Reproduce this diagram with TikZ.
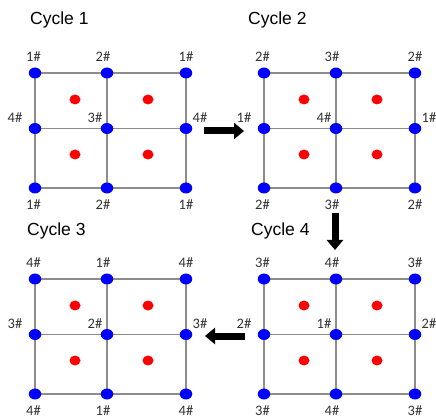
\documentclass[tikz,border=0pt]{standalone}
\usepackage{fontspec}
\setmainfont{Liberation Sans}
\newfontfamily\labfont{Carlito}
\usetikzlibrary{shapes.geometric,arrows.meta,backgrounds}
\definecolor{dotblue}{HTML}{0000FF}
\definecolor{dotred}{HTML}{FF0000}
\definecolor{gridgray}{HTML}{8C8C8C}
\definecolor{labgray}{HTML}{333333}
\tikzset{
  bdot/.style={ellipse,fill=dotblue,minimum width=12.5pt,minimum height=11pt,inner sep=0pt},
  rdot/.style={ellipse,fill=dotred,minimum width=11pt,minimum height=10pt,inner sep=0pt},
  gline/.style={draw=gridgray,line width=1.2pt},
  lab/.style={font=\labfont\fontsize{14.5}{16}\selectfont,text=labgray,inner sep=0pt},
  ttl/.style={font=\fontsize{17.5}{20}\selectfont,anchor=base west,inner sep=0pt},
  bigarrow/.style={line width=7pt,-{Triangle[width=16pt,length=10pt]}}
}
\newcommand\cyclegrid[7]{%
  \node[bdot] (#1-tl) at (#2,#3) {};
  \node[bdot] (#1-tm) at (#2+72,#3) {};
  \node[bdot] (#1-tr) at (#2+151,#3) {};
  \node[bdot] (#1-ml) at (#2,#3+55.5) {};
  \node[bdot] (#1-mm) at (#2+72,#3+55.5) {};
  \node[bdot] (#1-mr) at (#2+151,#3+55.5) {};
  \node[bdot] (#1-bl) at (#2,#3+115) {};
  \node[bdot] (#1-bm) at (#2+72,#3+115) {};
  \node[bdot] (#1-br) at (#2+151,#3+115) {};
  \begin{pgfonlayer}{background}
    \draw[gline] (#1-tl.center) -- (#1-tr.center) -- (#1-br.center) -- (#1-bl.center) -- cycle;
    \draw[gline] (#1-ml.center) -- (#1-mr.center);
    \draw[gline] (#1-tm.center) -- (#1-bm.center);
  \end{pgfonlayer}
  \node[rdot] (#1-r1) at (#2+40,#3+26.5) {};
  \node[rdot] (#1-r2) at (#2+113,#3+26.5) {};
  \node[rdot] (#1-r3) at (#2+40,#3+81.5) {};
  \node[rdot] (#1-r4) at (#2+113,#3+81.5) {};
  \node[lab] (#1-Ltl) at (#2-1.5,#3-16) {#4\#};
  \node[lab] (#1-Ltm) at (#2+68,#3-16) {#5\#};
  \node[lab] (#1-Ltr) at (#2+151,#3-16) {#4\#};
  \node[lab] (#1-Lml) at (#2-20,#3+45) {#6\#};
  \node[lab] (#1-Lmm) at (#2+60,#3+45) {#7\#};
  \node[lab] (#1-Lmr) at (#2+165,#3+45) {#6\#};
  \node[lab] (#1-Lbl) at (#2-1.5,#3+131.5) {#4\#};
  \node[lab] (#1-Lbm) at (#2+68,#3+131.5) {#5\#};
  \node[lab] (#1-Lbr) at (#2+151,#3+131.5) {#4\#};
}
\begin{document}
\begin{tikzpicture}[x=1pt,y=-1pt]
  \useasboundingbox (0,0) rectangle (436,419);
  \node[ttl] (t1) at (30,25) {Cycle 1};
  \node[ttl] (t2) at (248,25) {Cycle 2};
  \node[ttl] (t3) at (27,236) {Cycle 3};
  \node[ttl] (t4) at (251,236) {Cycle 4};
  \cyclegrid{g1}{35}{73}{1}{2}{4}{3}
  \cyclegrid{g2}{264}{73}{2}{3}{1}{4}
  \cyclegrid{g3}{35}{279}{4}{1}{3}{2}
  \cyclegrid{g4}{264}{279}{3}{4}{2}{1}
  \coordinate (a1s) at (204,131);
  \coordinate (a1e) at (244,131);
  \coordinate (a2s) at (335,213);
  \coordinate (a2e) at (335,250);
  \coordinate (a3s) at (245,336);
  \coordinate (a3e) at (205,336);
  \draw[bigarrow] (a1s) -- (a1e);
  \draw[bigarrow] (a2s) -- (a2e);
  \draw[bigarrow] (a3s) -- (a3e);
\end{tikzpicture}
\end{document}
